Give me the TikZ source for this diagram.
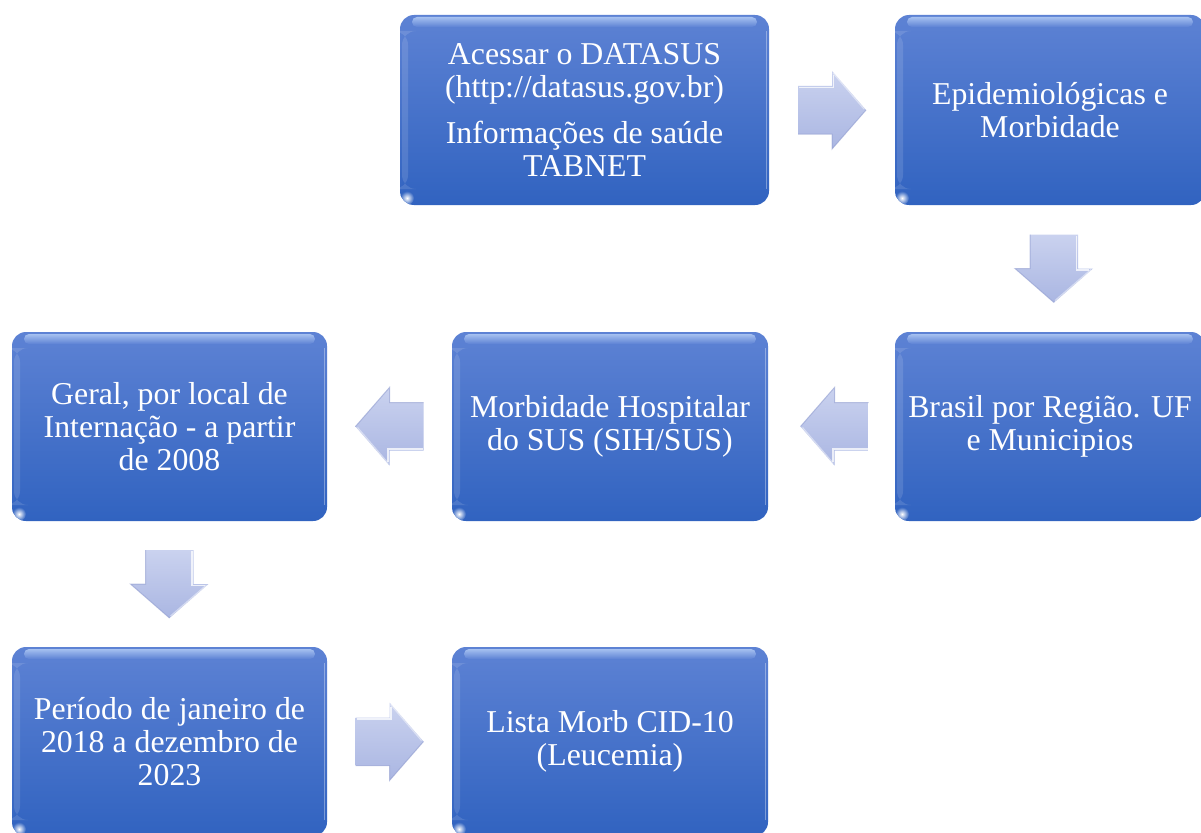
\documentclass[tikz,border=0pt]{standalone}
\usepackage{fontspec}
\setmainfont{Liberation Serif}
\usetikzlibrary{calc}
\definecolor{btop}{RGB}{93,130,212}
\definecolor{bbot}{RGB}{49,99,192}
\definecolor{bhi}{RGB}{165,192,240}
\definecolor{atop}{RGB}{202,210,239}
\definecolor{abot}{RGB}{170,182,226}
\definecolor{aedge}{RGB}{145,157,208}
\tikzset{
  flowbox/.style={rounded corners=14pt, inner sep=0pt, text=white, align=center,
    font=\fontsize{31.8}{32.8}\selectfont, top color=btop, bottom color=bbot,
    path picture={
      \coordinate (nw) at (path picture bounding box.north west);
      \coordinate (se) at (path picture bounding box.south east);
      \shade[top color=bhi, bottom color=btop, rounded corners=5pt]
        ($(nw)+(12,2)$) rectangle ($(se|-nw)+(-12,12)$);
      \fill[white, opacity=0.12] ($(nw)+(2,16)$) rectangle ($(nw|-se)+(8,-16)$);
      \draw[white, opacity=0.35, line width=1pt] ($(se|-nw)+(-3,16)$) -- ($(se)+(-3,-16)$);
      \shade[inner color=white, outer color=bbot] ($(nw|-se)+(7,-7)$) circle (7);
    }},
  pics/blockarrow/.style={code={
    \shade[top color=atop, bottom color=abot]
      (-34,-24) -- (0,-24) -- (0,-39) -- (34,0) -- (0,39) -- (0,24) -- (-34,24) -- cycle;
    \draw[white, opacity=0.75, line width=1.6pt] (-33,-22.5) -- (1.5,-22.5) -- (1.5,-35);
    \draw[white, opacity=0.45, line width=1.2pt] (1,-37) -- (32,-1);
    \draw[aedge, opacity=0.6, line width=1pt] (-34,24) -- (0,24) -- (0,39) -- (34,0);
  }}
}
\begin{document}
\begin{tikzpicture}[x=1pt, y=-1pt]
\useasboundingbox (0,0) rectangle (1201,832);
\clip (0,0) rectangle (1201,832);
\fill[white] (0,0) rectangle (1201,832);

\node[flowbox, minimum width=369pt, minimum height=190pt] (b1) at (584.5,110)
  {Acessar o DATASUS\\(http://datasus.gov.br)\\[13pt]Informações de saúde\\TABNET};
\node[flowbox, minimum width=310pt, minimum height=190pt] (b2) at (1050,110)
  {Epidemiológicas e\\Morbidade};
\node[flowbox, minimum width=310pt, minimum height=189pt] (b3) at (1050,426.5)
  {Brasil por Região. UF\\e Municipios};
\node[flowbox, minimum width=316pt, minimum height=189pt] (b4) at (610,426.5)
  {Morbidade Hospitalar\\do SUS (SIH/SUS)};
\node[flowbox, minimum width=315pt, minimum height=189pt] (b5) at (169.5,426.5)
  {Geral, por local de\\Internação - a partir\\de 2008};
\node[flowbox, minimum width=315pt, minimum height=189pt] (b6) at (169.5,741.5)
  {Período de janeiro de\\2018 a dezembro de\\2023};
\node[flowbox, minimum width=316pt, minimum height=189pt] (b7) at (610,741.5)
  {Lista Morb CID-10\\(Leucemia)};

\pic at ($(b1.east)!0.5!(b2.west)$) {blockarrow};
\pic[rotate=-90] at ($($(b2.south)!0.5!(b3.north)$)+(4,0)$) {blockarrow};
\pic[rotate=180] at ($(b3.west)!0.5!(b4.east)+(3,0)$) {blockarrow};
\pic[rotate=180] at ($(b4.west)!0.5!(b5.east)$) {blockarrow};
\pic[rotate=-90] at ($(b5.south)!0.5!(b6.north)$) {blockarrow};
\pic at ($(b6.east)!0.5!(b7.west)$) {blockarrow};
\end{tikzpicture}
\end{document}
